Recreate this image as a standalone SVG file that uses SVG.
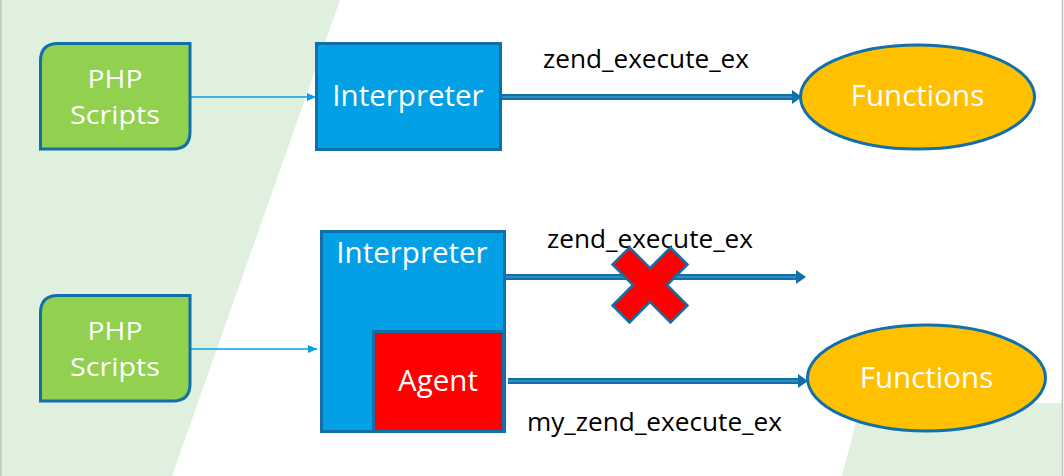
<svg xmlns="http://www.w3.org/2000/svg" width="1064" height="476" viewBox="0 0 1064 476">
  <style>
    .lbl { font-family: "Open Sans", "Liberation Sans", sans-serif; fill: #ffffff; font-size: 29.5px; text-anchor: middle; }
    .lbl2 { font-family: "Open Sans", "Liberation Sans", sans-serif; fill: #ffffff; font-size: 26px; text-anchor: middle; }
    .conn-lbl { font-family: "Open Sans", "Liberation Sans", sans-serif; fill: #000000; font-size: 25px; text-anchor: middle; }
    .script { fill: #92D050; stroke: #1170AA; stroke-width: 3; }
    .interp { fill: #03A0E6; stroke: #1170AA; stroke-width: 3; }
    .agent { fill: #FF0000; stroke: #1170AA; stroke-width: 3; }
    .func { fill: #FFC000; stroke: #1170AA; stroke-width: 3; }
    .thin { stroke: #03A0E6; stroke-width: 1.3; fill: none; }
    .thick { stroke: #1170AA; stroke-width: 6; fill: none; }
    .thick-in { stroke: #3D95CC; stroke-width: 1.5; fill: none; }
  </style>
  <defs>
    <marker id="thinHead" markerUnits="userSpaceOnUse" markerWidth="10" markerHeight="10" refX="9" refY="5" orient="auto">
      <path d="M0,1 L9,5 L0,9 Z" fill="#03A0E6"/>
    </marker>
  </defs>

  <!-- background -->
  <rect x="0" y="0" width="1064" height="476" fill="#ffffff"/>
  <polygon points="0,0 340,0 172,476 0,476" fill="#DFF0DE"/>
  <polygon points="861,403 1062,403 1062,476 842,476" fill="#DFF0DE"/>
  <line x1="1" y1="0" x2="1" y2="476" stroke="#BFBFBF" stroke-width="1.5"/>
  <line x1="1062.5" y1="0" x2="1062.5" y2="476" stroke="#BFBFBF" stroke-width="1.5"/>

  <g id="connectors">
    <line class="thin" x1="191" y1="97" x2="316" y2="97" marker-end="url(#thinHead)"/>
    <line class="thin" x1="191" y1="349" x2="317" y2="349" marker-end="url(#thinHead)"/>

    <line class="thick" x1="502" y1="97" x2="794" y2="97"/>
    <line class="thick-in" x1="502" y1="97" x2="794" y2="97"/>
    <path d="M792,90 L802,97 L792,104 Z" fill="#1170AA"/>

    <line class="thick" x1="506" y1="277" x2="798" y2="277"/>
    <line class="thick-in" x1="506" y1="277" x2="798" y2="277"/>
    <path d="M796,270 L806,277 L796,284 Z" fill="#1170AA"/>

    <line class="thick" x1="508" y1="381" x2="800" y2="381"/>
    <line class="thick-in" x1="508" y1="381" x2="800" y2="381"/>
    <path d="M798,374 L808,381 L798,388 Z" fill="#1170AA"/>

    <text class="conn-lbl" x="646" y="68" textLength="206" lengthAdjust="spacingAndGlyphs">zend_execute_ex</text>
    <text class="conn-lbl" x="650" y="248" textLength="206" lengthAdjust="spacingAndGlyphs">zend_execute_ex</text>
    <text class="conn-lbl" x="654.5" y="431" textLength="255" lengthAdjust="spacingAndGlyphs">my_zend_execute_ex</text>
  </g>

  <g id="php-scripts-1">
    <path class="script" d="M58,43.5 H190 V132 Q190,149 173,149 H40.5 V61 Q40.5,43.5 58,43.5 Z"/>
    <text class="lbl2" x="115" y="88" textLength="55" lengthAdjust="spacingAndGlyphs">PHP</text>
    <text class="lbl2" x="115" y="124" textLength="90" lengthAdjust="spacingAndGlyphs">Scripts</text>
  </g>

  <g id="interpreter-1">
    <rect class="interp" x="316.5" y="43.5" width="184" height="106"/>
    <text class="lbl" x="408" y="106">Interpreter</text>
  </g>

  <g id="functions-1">
    <ellipse class="func" cx="917.5" cy="97" rx="117" ry="52"/>
    <text class="lbl" x="917.5" y="106">Functions</text>
  </g>

  <g id="php-scripts-2">
    <path class="script" d="M58,295.5 H190 V384 Q190,401 173,401 H40.5 V313 Q40.5,295.5 58,295.5 Z"/>
    <text class="lbl2" x="115" y="340" textLength="55" lengthAdjust="spacingAndGlyphs">PHP</text>
    <text class="lbl2" x="115" y="376" textLength="90" lengthAdjust="spacingAndGlyphs">Scripts</text>
  </g>

  <g id="interpreter-2">
    <rect class="interp" x="321.5" y="231.5" width="183" height="200"/>
    <text class="lbl" x="412" y="263">Interpreter</text>
  </g>

  <g id="agent">
    <rect class="agent" x="373.5" y="331.5" width="130" height="100"/>
    <text class="lbl" x="438" y="391">Agent</text>
  </g>

  <g id="functions-2">
    <ellipse class="func" cx="926.5" cy="378" rx="119" ry="53"/>
    <text class="lbl" x="926.5" y="388">Functions</text>
  </g>

  <g id="cross">
    <polygon transform="translate(650,285) rotate(45)" points="-12,-41 12,-41 12,-12 41,-12 41,12 12,12 12,41 -12,41 -12,12 -41,12 -41,-12 -12,-12" fill="#FF0000" stroke="#1170AA" stroke-width="2.5" stroke-linejoin="miter"/>
  </g>
</svg>
